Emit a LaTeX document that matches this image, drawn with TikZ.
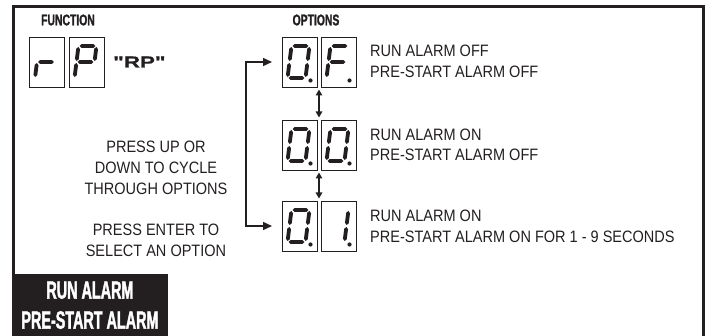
\documentclass[tikz,border=0pt]{standalone}
\usepackage{fontspec}
\setmainfont{Liberation Sans}[FakeStretch=0.88]
\newfontfamily\hdrfont{Liberation Sans}[FakeStretch=0.67,FakeBold=1.2]
\newfontfamily\boxfont{Liberation Sans}[FakeStretch=0.575,FakeBold=1.5]
\newfontfamily\widefont{Liberation Sans}[FakeStretch=1.4,FakeBold=1]
\usetikzlibrary{calc,arrows.meta}
\definecolor{ink}{HTML}{231F20}

\newcommand\sg[2]{\fill[ink] ($(#1)!1.0pt!(#2)$) -- ($($(#1)!3.0pt!(#2)$)!1.9pt!90:(#2)$) -- ($($(#2)!3.0pt!(#1)$)!1.9pt!-90:(#1)$) -- ($(#2)!1.0pt!(#1)$) -- ($($(#2)!3.0pt!(#1)$)!1.9pt!90:(#1)$) -- ($($(#1)!3.0pt!(#2)$)!1.9pt!-90:(#2)$) -- cycle;}
\newcommand\segA{\sg{9.5,9}{27.5,9}}
\newcommand\segB{\sg{27.5,9}{25.5,25}}
\newcommand\segC{\sg{25.5,25}{23.5,41}}
\newcommand\segD{\sg{5.5,41}{23.5,41}}
\newcommand\segE{\sg{7.5,25}{5.5,41}}
\newcommand\segF{\sg{9.5,9}{7.5,25}}
\newcommand\segG{\sg{7.5,25}{25.5,25}}
\newcommand\segDP{\fill[ink] (28.5,43.5) circle (2.1pt);}
\newcommand\digitin[2]{\begin{scope}[shift={(#1.north west)}]#2\end{scope}}

\tikzset{
  digbox/.style={draw=ink, line width=0.9pt, minimum width=35pt, minimum height=50pt, inner sep=0pt, outer sep=0pt},
  hdr/.style={text=ink, inner sep=0pt, font={\hdrfont\bfseries\fontsize{15.5}{16}\selectfont}},
  opt/.style={text=ink, inner sep=0pt, anchor=west, align=left, font={\fontsize{16.5}{20.5}\selectfont}},
  lefttxt/.style={text=ink, inner sep=0pt, align=center, font={\fontsize{16.5}{20.8}\selectfont}},
  conn/.style={draw=ink, line width=1.5pt, {Triangle[length=9pt,width=8pt]}-{Triangle[length=9pt,width=8pt]}, shorten <=10pt, shorten >=10pt},
  dbl/.style={draw=ink, line width=1.5pt, {Triangle[length=6pt,width=6.5pt]}-{Triangle[length=6pt,width=6.5pt]}, shorten <=2.5pt, shorten >=2.5pt},
  blackbox/.style={fill=ink, text=white, anchor=north west, minimum width=156.5pt, minimum height=62pt, inner sep=0pt, align=center, font={\boxfont\bfseries\fontsize{25}{30}\selectfont}}
}

\begin{document}
\begin{tikzpicture}[x=1pt,y=-1pt]
\useasboundingbox (0,0) rectangle (705,336);
% frame
\draw[ink, line width=3pt] (13,336) -- (13,7) -- (703,7) -- (703,336);

% headers
\node[hdr] (lfun) at (68,20) {FUNCTION};
\node[hdr] (lopt) at (316,20) {OPTIONS};

% function digits
\node[digbox] (fr) at (47,62) {};
\node[digbox] (fp) at (86.5,62) {};
\digitin{fr}{\segG\segE}
\digitin{fp}{\segA\segB\segF\segG\segE}
\node[anchor=west, inner sep=0pt, text=ink, font={\widefont\bfseries\fontsize{16}{16}\selectfont}] (rp) at (113,62) {"RP"};

% option digits
\node[digbox] (o1a) at (299.5,62) {};
\node[digbox] (o1b) at (338.5,62) {};
\node[digbox] (o2a) at (299.5,145) {};
\node[digbox] (o2b) at (338.5,145) {};
\node[digbox] (o3a) at (299.5,226) {};
\node[digbox] (o3b) at (338.5,226) {};
\digitin{o1a}{\segA\segB\segC\segD\segE\segF\segDP}
\digitin{o1b}{\segA\segF\segE\segG\segDP}
\digitin{o2a}{\segA\segB\segC\segD\segE\segF\segDP}
\digitin{o2b}{\segA\segB\segC\segD\segE\segF\segDP}
\digitin{o3a}{\segA\segB\segC\segD\segE\segF\segDP}
\digitin{o3b}{\segB\segC\segDP}

% option texts
\node[opt] (t1) at (370,61.5) {RUN ALARM OFF\\PRE-START ALARM OFF};
\node[opt] (t2) at (370,145) {RUN ALARM ON\\PRE-START ALARM OFF};
\node[opt] (t3) at (370,226.5) {RUN ALARM ON\\PRE-START ALARM ON FOR 1 - 9 SECONDS};

% left texts
\node[lefttxt] (lt1) at (156,168) {PRESS UP OR\\DOWN TO CYCLE\\THROUGH OPTIONS};
\node[lefttxt] (lt2) at (156,240.5) {PRESS ENTER TO\\SELECT AN OPTION};

% connectors
\draw[conn] (o1a.west) -- ++(-36,0) |- (o3a.west);
\draw[dbl] ($(o1a.south east)!0.5!(o1b.south west)$) -- ($(o2a.north east)!0.5!(o2b.north west)$);
\draw[dbl] ($(o2a.south east)!0.5!(o2b.south west)$) -- ($(o3a.north east)!0.5!(o3b.north west)$);

% black label box
\node[blackbox] (bb) at (11.5,274) {RUN ALARM\\PRE-START ALARM};
\end{tikzpicture}
\end{document}
